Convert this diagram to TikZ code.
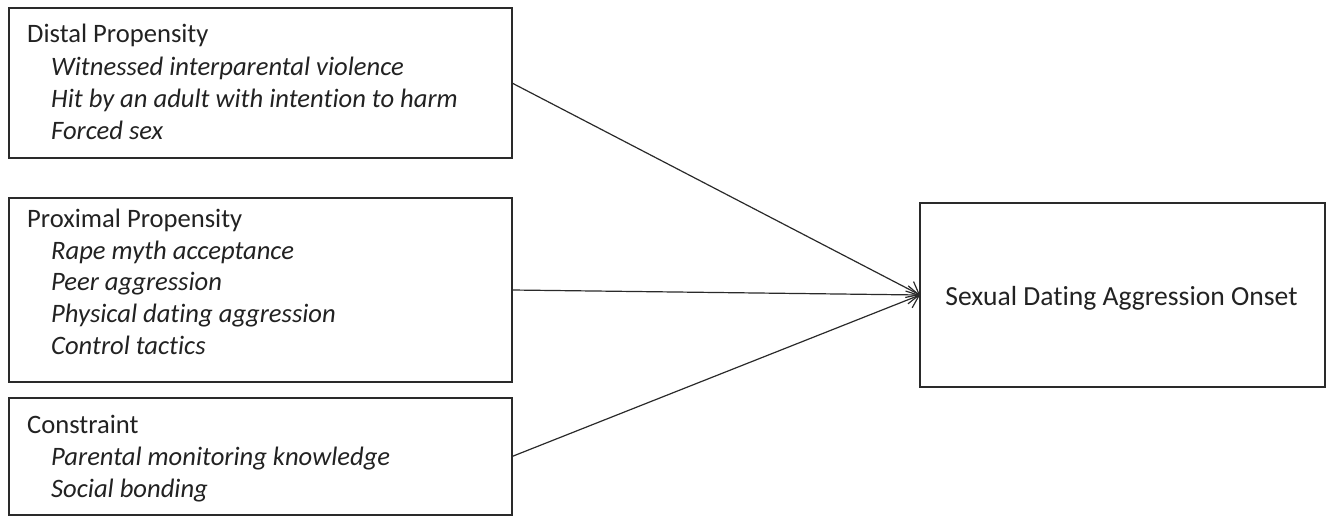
\documentclass[tikz,border=0pt]{standalone}
\usepackage{fontspec}
\setmainfont[Ligatures=NoCommon]{Carlito}
\usetikzlibrary{arrows.meta}
\definecolor{linegray}{HTML}{2A2A2A}
\definecolor{textgray}{HTML}{222222}
\begin{document}
\begin{tikzpicture}[x=1pt,y=-1pt,
  box/.style={draw=linegray, line width=1.4pt, rectangle, inner sep=0pt, outer sep=0pt},
  head/.style={anchor=base west, inner sep=0pt, text=textgray, font=\fontsize{26.6}{32}\selectfont},
  item/.style={anchor=base west, inner sep=0pt, text=textgray, font=\fontsize{26.6}{32}\selectfont\itshape},
  conn/.style={draw=linegray, line width=1.2pt, -{Straight Barb[length=11pt,width=18pt,line width=1.2pt]}}]
\useasboundingbox (0,0) rectangle (1333,519);
% boxes
\node[box, minimum width=503pt, minimum height=150pt] (distal) at (260.5,83) {};
\node[box, minimum width=503pt, minimum height=184pt] (proximal) at (260.5,290) {};
\node[box, minimum width=503pt, minimum height=117pt] (constraint) at (260.5,456.5) {};
\node[box, minimum width=405pt, minimum height=184pt] (onset) at (1122.5,295) {};
% texts
\node[head] (d0) at (27,43) {Distal Propensity};
\node[item] (d1) at (51,75) {Witnessed interparental violence};
\node[item] (d2) at (51,107) {Hit by an adult with intention to harm};
\node[item] (d3) at (51,139) {Forced sex};
\node[head] (p0) at (27,227) {Proximal Propensity};
\node[item] (p1) at (51,259) {Rape myth acceptance};
\node[item] (p2) at (51,290) {Peer aggression};
\node[item] (p3) at (51,322) {Physical dating aggression};
\node[item] (p4) at (51,354) {Control tactics};
\node[head] (c0) at (27,433) {Constraint};
\node[item] (c1) at (51,465) {Parental monitoring knowledge};
\node[item] (c2) at (51,497) {Social bonding};
\node[head, anchor=base, font=\fontsize{27.6}{32}\selectfont] (o0) at (1121.5,305) {Sexual Dating Aggression Onset};
% connectors
\draw[conn] (distal.east) -- (onset.west);
\draw[conn] (proximal.east) -- (onset.west);
\draw[conn] (constraint.east) -- (onset.west);
\end{tikzpicture}
\end{document}
